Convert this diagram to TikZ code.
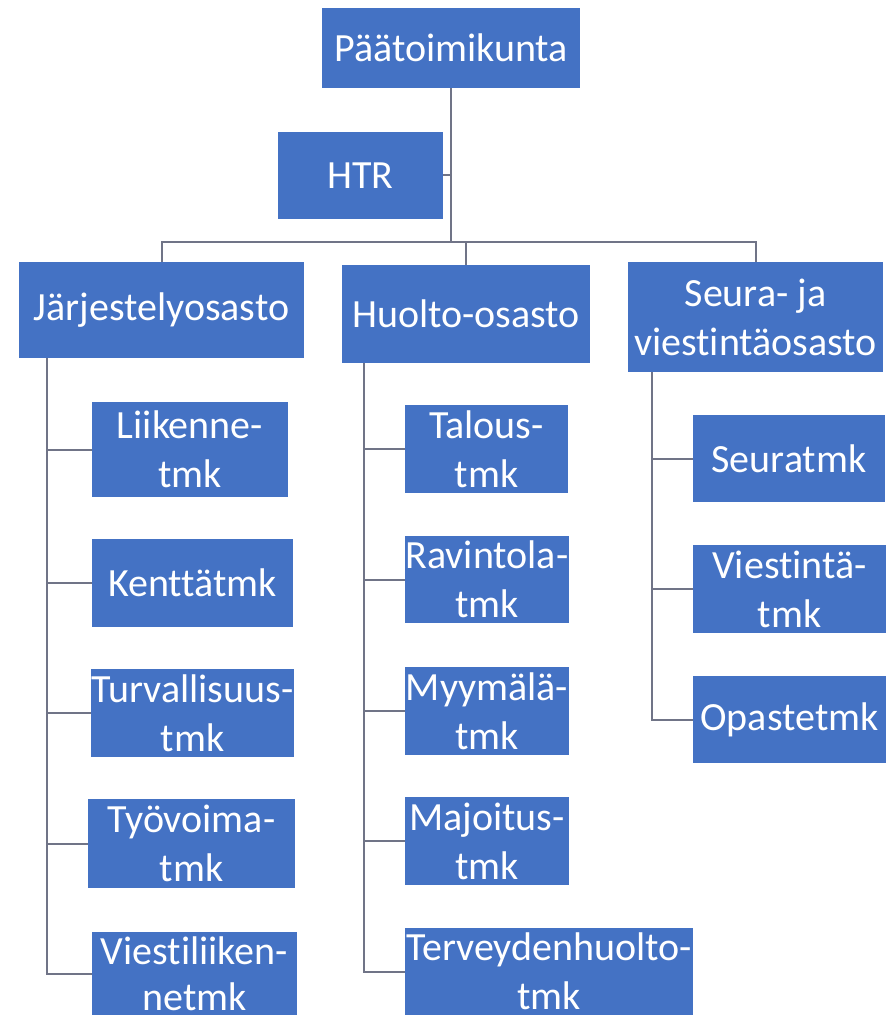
\documentclass[tikz,border=0pt]{standalone}
\usepackage{fontspec}
\setmainfont[Ligatures={NoCommon,NoRare}]{Carlito}
\usetikzlibrary{calc}
\definecolor{boxblue}{RGB}{68,114,196}
\definecolor{linegray}{RGB}{112,116,135}
\begin{document}
\begin{tikzpicture}[x=1pt,y=-1pt,
  orgbox/.style={fill=boxblue, text=white, align=center, inner sep=0pt,
     font=\fontsize{40}{49}\selectfont},
  conn/.style={draw=linegray, line width=2pt}]
\useasboundingbox (0,0) rectangle (889,1019);
\fill[white] (0,0) rectangle (889,1019);
% top
\node[orgbox, minimum width=258, minimum height=80] (P) at (451,48) {Päätoimikunta};
\node[orgbox, minimum width=165, minimum height=87] (HTR) at (360.5,175.5) {HTR};
% departments
\node[orgbox, minimum width=285, minimum height=96] (J) at (161.5,310) {Järjestelyosasto};
\node[orgbox, minimum width=248, minimum height=98] (H) at (466,314) {Huolto-osasto};
\node[orgbox, minimum width=255, minimum height=110] (S) at (755.5,317) {Seura- ja\\viestintäosasto};
% left column
\node[orgbox, minimum width=196, minimum height=95] (Lii) at (190,449.5) {Liikenne-\\tmk};
\node[orgbox, minimum width=201, minimum height=88] (Ken) at (192.5,583) {Kenttätmk};
\node[orgbox, minimum width=201, minimum height=88] (Tur) at (192.5,713) {Turvallisuus-\\tmk};
\node[orgbox, minimum width=207, minimum height=89] (Tyo) at (191.5,843.5) {Työvoima-\\tmk};
\node[orgbox, minimum width=205, minimum height=83, font=\fontsize{40}{46}\selectfont] (Vli) at (194.5,973.5) {Viestiliiken-\\netmk};
% middle column
\node[orgbox, minimum width=163, minimum height=88] (Tal) at (486.5,449) {Talous-\\tmk};
\node[orgbox, minimum width=164, minimum height=87] (Rav) at (487,579.5) {Ravintola-\\tmk};
\node[orgbox, minimum width=164, minimum height=88] (Myy) at (487,711) {Myymälä-\\tmk};
\node[orgbox, minimum width=164, minimum height=88] (Maj) at (487,841) {Majoitus-\\tmk};
\node[orgbox, minimum width=288, minimum height=87] (Ter) at (549,971.5) {Terveydenhuolto-\\tmk};
% right column
\node[orgbox, minimum width=192, minimum height=87] (Seu) at (789,458.5) {Seuratmk};
\node[orgbox, minimum width=193, minimum height=88] (Vin) at (789.5,589) {Viestintä-\\tmk};
\node[orgbox, minimum width=193, minimum height=87] (Opa) at (789.5,719.5) {Opastetmk};
% coordinates
\coordinate (bus) at (451,242);
\coordinate (jt) at (47,358);
\coordinate (ht) at (364,363);
\coordinate (st) at (652,372);
% top connectors
\draw[conn] (P.south) -- (bus);
\draw[conn] (HTR.east) -- (bus |- HTR.east);
\draw[conn] (J.north) -- (J.north |- bus) -- (S.north |- bus) -- (S.north);
\draw[conn] (H.north) -- (H.north |- bus);
% left column connectors
\draw[conn] (jt) |- (Vli.west);
\foreach \n in {Lii,Ken,Tur,Tyo} \draw[conn] (jt |- \n.west) -- (\n.west);
% middle column connectors
\draw[conn] (ht) |- (Ter.west);
\foreach \n in {Tal,Rav,Myy,Maj} \draw[conn] (ht |- \n.west) -- (\n.west);
% right column connectors
\draw[conn] (st) |- (Opa.west);
\foreach \n in {Seu,Vin} \draw[conn] (st |- \n.west) -- (\n.west);
\end{tikzpicture}
\end{document}
